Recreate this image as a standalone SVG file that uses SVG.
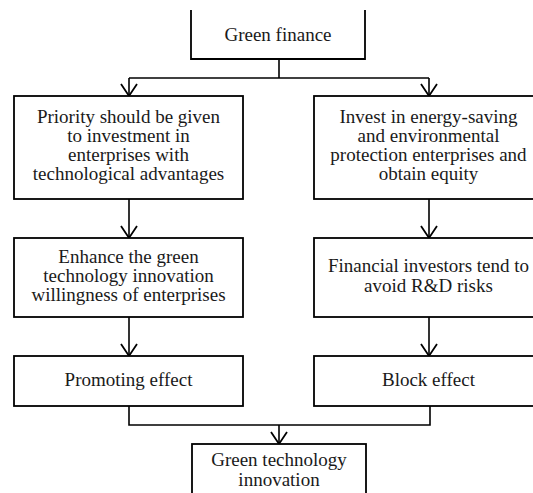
<svg xmlns="http://www.w3.org/2000/svg" width="533" height="493" viewBox="0 0 533 493">
<style>
.box{fill:#fff;stroke:#000;stroke-width:1.8}
.c{fill:none;stroke:#000;stroke-width:1.6}
.ah{fill:none;stroke:#000;stroke-width:1.8}
text{font-family:"Liberation Serif","Times New Roman",Tinos,"DejaVu Serif",serif;font-size:19px;fill:#1a1a1a;text-anchor:middle}
</style>
<rect width="533" height="493" fill="#fff"/>
<g id="connectors">
<path class="c" d="M279,59 V78"/>
<path class="c" d="M129,78 H429"/>
<path class="c" d="M129,78 V96"/>
<path class="c" d="M429,78 V96"/>
<path class="c" d="M129,199 V238"/>
<path class="c" d="M429,199 V238"/>
<path class="c" d="M129,317 V356"/>
<path class="c" d="M429,317 V356"/>
<path class="c" d="M129,406 V425 H430 V406"/>
<path class="c" d="M279,425 V444"/>
<path class="ah" d="M121,84 L129,96 L137,84"/>
<path class="ah" d="M421,84 L429,96 L437,84"/>
<path class="ah" d="M121,226 L129,238 L137,226"/>
<path class="ah" d="M421,226 L429,238 L437,226"/>
<path class="ah" d="M121,344 L129,356 L137,344"/>
<path class="ah" d="M421,344 L429,356 L437,344"/>
<path class="ah" d="M271,432 L279,444 L287,432"/>
</g>
<g id="green-finance">
<path class="box" d="M191,10 V59 H365 V10"/>
<text x="278" y="41">Green finance</text>
</g>
<g id="priority">
<rect class="box" x="14" y="96" width="229" height="103"/>
<text x="128.5" y="123">Priority should be given</text>
<text x="128.5" y="142">to investment in</text>
<text x="128.5" y="161">enterprises with</text>
<text x="128.5" y="180">technological advantages</text>
</g>
<g id="invest">
<rect class="box" x="314" y="96" width="229" height="103"/>
<text x="428.5" y="123">Invest in energy-saving</text>
<text x="428.5" y="142">and environmental</text>
<text x="428.5" y="161">protection enterprises and</text>
<text x="428.5" y="180">obtain equity</text>
</g>
<g id="enhance">
<rect class="box" x="14" y="238" width="229" height="79"/>
<text x="128.5" y="263">Enhance the green</text>
<text x="128.5" y="282">technology innovation</text>
<text x="128.5" y="301">willingness of enterprises</text>
</g>
<g id="avoid">
<rect class="box" x="314" y="238" width="229" height="79"/>
<text x="428.5" y="272">Financial investors tend to</text>
<text x="428.5" y="292">avoid R&amp;D risks</text>
</g>
<g id="promoting">
<rect class="box" x="14" y="356" width="229" height="50"/>
<text x="128.5" y="386">Promoting effect</text>
</g>
<g id="block">
<rect class="box" x="314" y="356" width="229" height="50"/>
<text x="428.5" y="386">Block effect</text>
</g>
<g id="gti">
<rect class="box" x="192" y="444" width="174" height="60"/>
<text x="279" y="466">Green technology</text>
<text x="279" y="486">innovation</text>
</g>
</svg>
